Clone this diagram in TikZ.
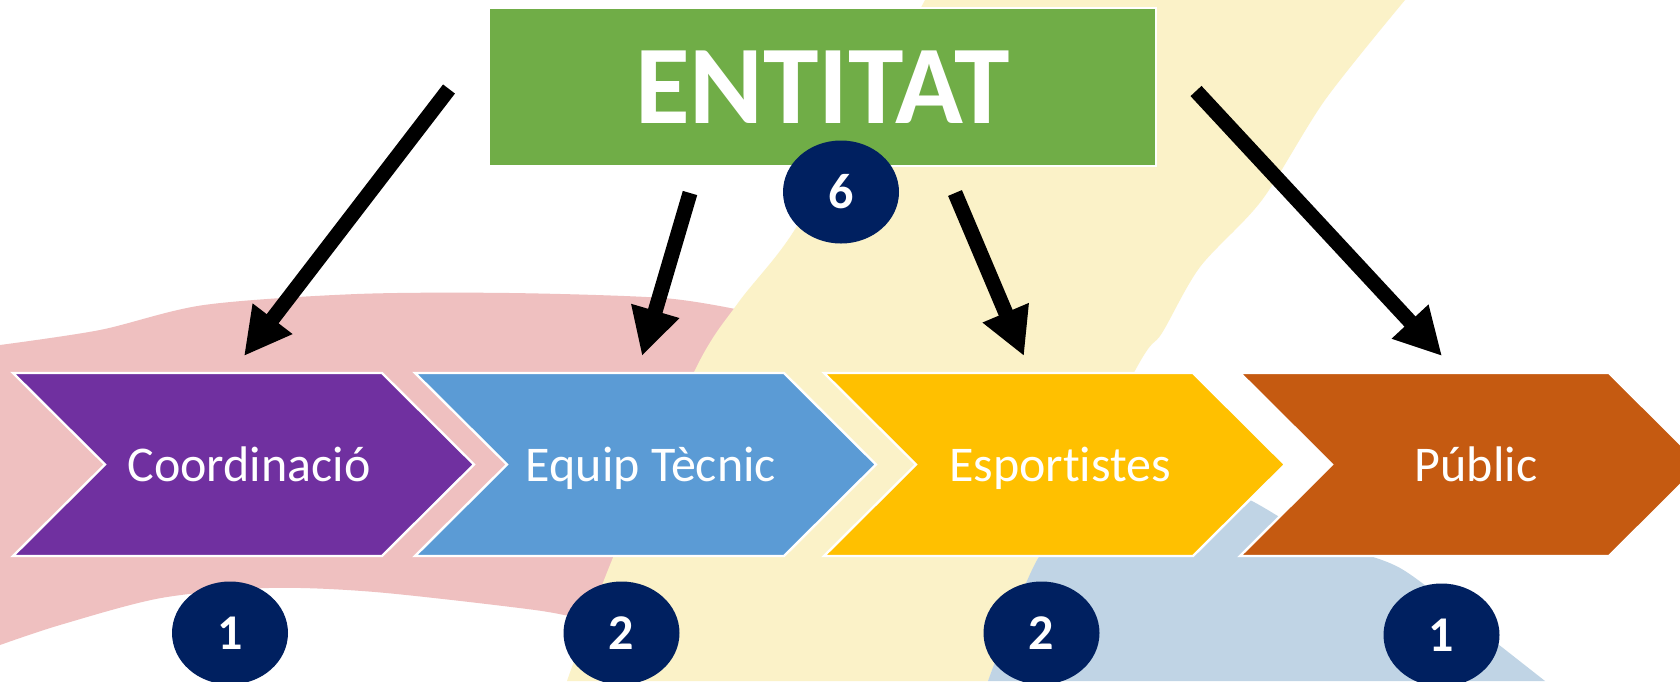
\documentclass[tikz,border=0pt]{standalone}
\usepackage{fontspec}
\setmainfont{Carlito}[Ligatures=NoCommon]
\usetikzlibrary{shapes.geometric,arrows.meta}

\definecolor{entgreen}{HTML}{70AD47}
\definecolor{chevpurple}{HTML}{7030A0}
\definecolor{chevblue}{HTML}{5B9BD5}
\definecolor{chevyellow}{HTML}{FFC000}
\definecolor{chevorange}{HTML}{C55A11}
\definecolor{navy}{HTML}{002060}
\definecolor{bgpink}{HTML}{EFC0C0}
\definecolor{bgyellow}{HTML}{FBF2C8}
\definecolor{bgblue}{HTML}{C0D4E5}

\tikzset{
  entbox/.style={fill=entgreen,draw=white,line width=1pt,minimum width=333.5pt,minimum height=79pt,
    text=white,font=\fontsize{56}{60}\selectfont\bfseries},
  numdot/.style={ellipse,fill=navy,minimum width=58pt,minimum height=51.5pt,inner sep=0pt,
    text=white,font=\fontsize{25}{25}\selectfont\bfseries},
  chevtext/.style={anchor=base,text=white,font=\fontsize{25}{30}\selectfont},
  arrowline/.style={line width=7.5pt,-{Triangle[length=23.5pt,width=23.5pt]}}
}

\begin{document}
\begin{tikzpicture}[x=0.5pt,y=-0.5pt]
\useasboundingbox (0,0) rectangle (1680,681);
\clip (0,0) rectangle (1680,681);

% background patches
\fill[white] (0,0) rectangle (1680,681);
\fill[bgpink] plot[smooth] coordinates {(0,345) (100,330) (204,305) (357,294) (510,293) (663,298) (740,310)}
  -- (720,360) -- (640,520)
  -- plot[smooth] coordinates {(585,620) (535,610) (375,592) (268,588) (161,598) (60,625) (0,645)} -- cycle;
\fill[bgyellow] plot[smooth] coordinates {(925,0) (860,120) (790,237) (738,303) (695,370) (612,560) (567,681)}
  -- plot[smooth] coordinates {(988,681) (1037,560) (1137,367) (1162,333) (1200,267) (1262,200) (1325,100) (1405,0)} -- cycle;
\fill[bgblue] plot[smooth] coordinates {(988,681) (1037,560) (1100,480) (1180,470) (1250,500) (1320,540) (1400,568) (1480,630) (1545,681)} -- cycle;

% the four steps
\foreach \L/\col/\nm/\txt in {13/chevpurple/coord/Coordinació, 415/chevblue/equip/Equip Tècnic,
    824/chevyellow/esport/Esportistes, 1240/chevorange/public/Públic}{
  \filldraw[fill=\col,draw=white,line width=1.2pt] (\L,373) -- ++(369,0) -- ++(92,91.5) -- ++(-92,91.5)
    -- ++(-369,0) -- ++(92,-91.5) -- cycle;
  \node[chevtext] (\nm) at (\L+236,481) {\txt};
}

\node[entbox] (entitat) at (822.5,87) {ENTITAT};

\node[numdot] (n6) at (841,192) {6};
\node[numdot] (n1) at (230,633) {1};
\node[numdot] (n2) at (621.5,633) {2};
\node[numdot] (n3) at (1041.5,633) {2};
\node[numdot] (n4) at (1441.5,635) {1};

% arrows
\coordinate (s1) at (449,89);   \coordinate (e1) at (244,356);
\coordinate (s2) at (690,193);  \coordinate (e2) at (642,356);
\coordinate (s3) at (955,193);  \coordinate (e3) at (1024,356);
\coordinate (s4) at (1196,91);  \coordinate (e4) at (1442,356);

\path[arrowline]
    (s1) edge (e1)
    (s2) edge (e2)
    (s3) edge (e3)
    (s4) edge (e4);
\end{tikzpicture}
\end{document}
